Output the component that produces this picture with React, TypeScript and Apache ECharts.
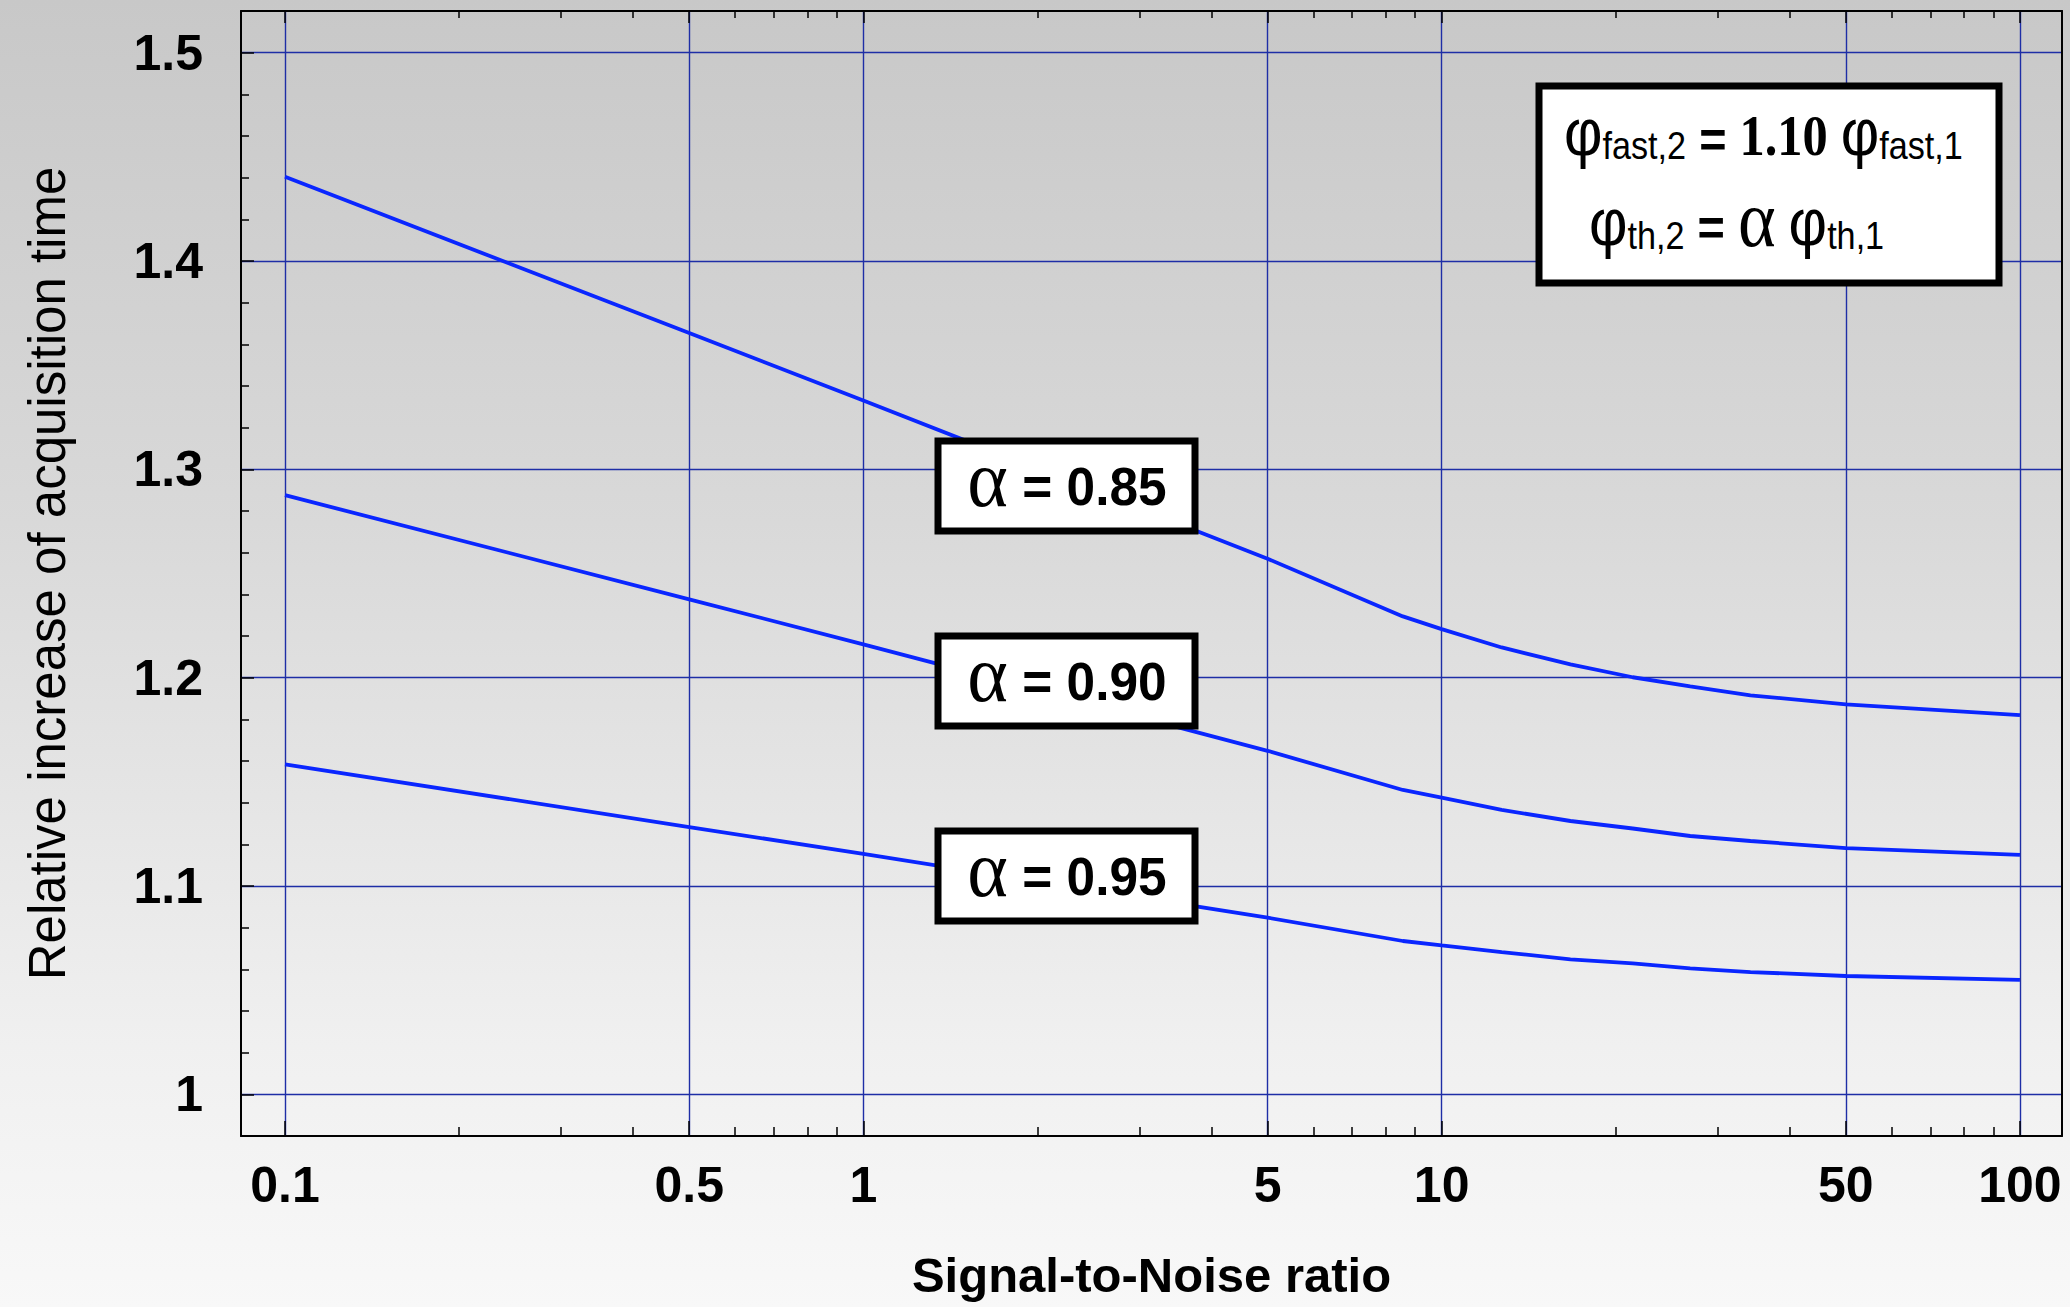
import React, { useEffect, useRef } from "react";
import * as echarts from "echarts";

// ---- data ----
const snr = [0.1, 0.5, 1, 5, 8.57, 10, 12.7, 16.7, 21.4, 26.9, 34.2, 50, 100];
const alpha085 = [1.4404, 1.3654, 1.333, 1.2571, 1.2294, 1.2233, 1.2145, 1.2064, 1.2002, 1.1958, 1.1915, 1.1872, 1.182];
const alpha090 = [1.2876, 1.2376, 1.216, 1.1649, 1.1461, 1.1424, 1.1365, 1.1312, 1.1276, 1.124, 1.1216, 1.1182, 1.1149];
const alpha095 = [1.1584, 1.1283, 1.1154, 1.0848, 1.0736, 1.0715, 1.0683, 1.0648, 1.0629, 1.0605, 1.0587, 1.0568, 1.0549];
const seriesNames = ["α = 0.85", "α = 0.90", "α = 0.95"];
const alphaValues = ["0.85", "0.90", "0.95"];

const xMajorTicks = [0.1, 0.5, 1, 5, 10, 50, 100];
const xMajorLabels = ["0.1", "0.5", "1", "5", "10", "50", "100"];
const xMinorTicks = [0.2, 0.3, 0.4, 0.6, 0.7, 0.8, 0.9, 2, 3, 4, 6, 7, 8, 9, 20, 30, 40, 60, 70, 80, 90];
const yMajorTicks = [1.0, 1.1, 1.2, 1.3, 1.4, 1.5];
const yMajorLabels = ["1", "1.1", "1.2", "1.3", "1.4", "1.5"];
const yMinorTicks = [
  1.02, 1.04, 1.06, 1.08, 1.12, 1.14, 1.16, 1.18, 1.22, 1.24, 1.26, 1.28,
  1.32, 1.34, 1.36, 1.38, 1.42, 1.44, 1.46, 1.48,
];
const xTitle = "Signal-to-Noise ratio";
const yTitle = "Relative increase of acquisition time";

const X_MIN = -1.0761; // log10 of ~0.0839
const X_MAX = 2.0727; // log10 of ~118.2
const Y_MIN = 0.98;
const Y_MAX = 1.52;

const SANS = "'Liberation Sans', Arimo, Arial, sans-serif";
const SERIF = "'Liberation Serif', 'DejaVu Serif', serif";
const GRID_COLOR = "#1e2ea6";
const LINE_COLOR = "#0a26ff";

const lg = (v: number) => Math.log10(v);
const near = (a: number, b: number) => Math.abs(a - b) < 1e-6;

export default function App() {
  const ref = useRef<HTMLDivElement>(null);

  useEffect(() => {
    if (!ref.current) return;
    const chart = echarts.init(ref.current, null, { renderer: "svg" });

    const xAxisBase = {
      type: "value" as const,
      min: X_MIN,
      max: X_MAX,
      axisLabel: { show: false },
      splitLine: { show: false },
    };
    const yAxisBase = {
      type: "value" as const,
      min: Y_MIN,
      max: Y_MAX,
      axisLabel: { show: false },
      splitLine: { show: false },
    };

    const makeSeries = (name: string, vals: number[]) => ({
      name,
      type: "line",
      xAxisIndex: 0,
      yAxisIndex: 0,
      data: snr.map((s, i) => [lg(s), vals[i]]),
      showSymbol: false,
      symbol: "none",
      lineStyle: { color: LINE_COLOR, width: 3.8 },
      z: 3,
    });

    const boxRich = {
      a: { fontFamily: SERIF, fontSize: 80, fill: "#000", verticalAlign: "bottom" },
      e: { fontFamily: SANS, fontWeight: "bold", fontSize: 53, fill: "#000", verticalAlign: "bottom", padding: [0, 0, 6, 0] },
      n: { fontFamily: SANS, fontWeight: "bold", fontSize: 53, fill: "#000", verticalAlign: "bottom", padding: [0, 0, 6, 0] },
    };

    const boxTops = [438, 633, 828];
    const alphaBoxes = alphaValues.map((v, i) => ({
      type: "group",
      z: 100,
      children: [
        {
          type: "rect",
          shape: { x: 938, y: boxTops[i] + 3, width: 257, height: 90 },
          style: { fill: "#ffffff", stroke: "#000000", lineWidth: 7 },
          z: 100,
        },
        {
          type: "text",
          z: 101,
          x: 1067,
          y: boxTops[i] + 41,
          scaleX: 0.97,
          style: {
            x: 0,
            y: 0,
            align: "center",
            verticalAlign: "middle",
            text: `{a|α}{e| = }{n|${v}}`,
            rich: boxRich,
          },
        },
      ],
    }));

    const legendRich1 = {
      p: { fontFamily: SANS, fontSize: 66, fill: "#000", verticalAlign: "bottom" },
      s: { fontFamily: SANS, fontSize: 38, fill: "#000", verticalAlign: "bottom" },
      e: { fontFamily: SANS, fontWeight: "bold", fontSize: 52, fill: "#000", verticalAlign: "bottom" },
      n: { fontFamily: SERIF, fontWeight: "bold", fontSize: 56, fill: "#000", verticalAlign: "bottom" },
    };
    const legendRich2 = {
      p: { fontFamily: SANS, fontSize: 66, fill: "#000", verticalAlign: "bottom", padding: [0, 0, 4, 0] },
      s: { fontFamily: SANS, fontSize: 38, fill: "#000", verticalAlign: "bottom", padding: [0, 0, 4, 0] },
      e: { fontFamily: SANS, fontWeight: "bold", fontSize: 52, fill: "#000", verticalAlign: "bottom", padding: [0, 0, 6, 0] },
      a: { fontFamily: SERIF, fontSize: 80, fill: "#000", verticalAlign: "bottom" },
    };

    chart.setOption({
      animation: false,
      backgroundColor: "transparent",
      grid: {
        left: 241,
        right: 8,
        top: 11,
        bottom: 171,
        containLabel: false,
        outerBoundsMode: "none",
      },
      xAxis: [
        {
          ...xAxisBase,
          position: "bottom",
          name: xTitle,
          nameLocation: "middle",
          nameGap: 114,
          nameTextStyle: { fontFamily: SANS, fontWeight: "bold", fontSize: 49, color: "#000" },
          axisLine: { show: true, onZero: false, lineStyle: { color: "#000", width: 2 } },
          axisTick: {
            show: true,
            inside: true,
            length: 15,
            customValues: xMajorTicks.map(lg),
            lineStyle: { color: "#000", width: 1.5 },
          },
          axisLabel: {
            show: true,
            customValues: xMajorTicks.map(lg),
            margin: 24,
            fontFamily: SANS,
            fontWeight: "bold",
            fontSize: 50,
            color: "#000",
            formatter: (v: number) => {
              const i = xMajorTicks.findIndex((t) => near(lg(t), v));
              return i >= 0 ? xMajorLabels[i] : "";
            },
          },
          splitLine: { show: true, lineStyle: { color: GRID_COLOR, width: 1.4 } },
        },
        {
          ...xAxisBase,
          position: "bottom",
          axisLine: { show: false, onZero: false },
          axisTick: {
            show: true,
            inside: true,
            length: 9,
            customValues: xMinorTicks.map(lg),
            lineStyle: { color: "#000", width: 1.5 },
          },
        },
        {
          ...xAxisBase,
          position: "top",
          axisLine: { show: true, onZero: false, lineStyle: { color: "#000", width: 2 } },
          axisTick: {
            show: true,
            inside: true,
            length: 12,
            customValues: xMajorTicks.map(lg),
            lineStyle: { color: "#000", width: 1.5 },
          },
        },
        {
          ...xAxisBase,
          position: "top",
          axisLine: { show: false, onZero: false },
          axisTick: {
            show: true,
            inside: true,
            length: 7,
            customValues: xMinorTicks.map(lg),
            lineStyle: { color: "#000", width: 1.5 },
          },
        },
      ],
      yAxis: [
        {
          ...yAxisBase,
          position: "left",
          name: yTitle,
          nameLocation: "middle",
          nameGap: 168,
          nameTextStyle: { fontFamily: SANS, fontSize: 51, color: "#000" },
          axisLine: { show: true, onZero: false, lineStyle: { color: "#000", width: 2 } },
          axisTick: {
            show: true,
            inside: true,
            length: 13,
            customValues: yMajorTicks,
            lineStyle: { color: "#000", width: 1.5 },
          },
          axisLabel: {
            show: true,
            customValues: yMajorTicks,
            margin: 38,
            fontFamily: SANS,
            fontWeight: "bold",
            fontSize: 50,
            color: "#000",
            formatter: (v: number) => {
              const i = yMajorTicks.findIndex((t) => near(t, v));
              return i >= 0 ? yMajorLabels[i] : "";
            },
          },
          splitLine: { show: true, lineStyle: { color: GRID_COLOR, width: 1.4 } },
        },
        {
          ...yAxisBase,
          position: "left",
          axisLine: { show: false, onZero: false },
          axisTick: {
            show: true,
            inside: true,
            length: 8,
            customValues: yMinorTicks,
            lineStyle: { color: "#000", width: 1.5 },
          },
        },
        {
          ...yAxisBase,
          position: "right",
          axisLine: { show: true, onZero: false, lineStyle: { color: "#000", width: 2 } },
          axisTick: { show: false },
        },
      ],
      series: [
        makeSeries(seriesNames[0], alpha085),
        makeSeries(seriesNames[1], alpha090),
        makeSeries(seriesNames[2], alpha095),
      ],
      graphic: [
        {
          type: "group",
          z: 100,
          children: [
            {
              type: "rect",
              shape: { x: 1539, y: 86, width: 460, height: 197 },
              style: { fill: "#ffffff", stroke: "#000000", lineWidth: 7 },
              z: 100,
            },
            {
              type: "text",
              z: 101,
              x: 1564,
              y: 132,
              scaleX: 0.9,
              style: {
                x: 0,
                y: 0,
                align: "left",
                verticalAlign: "middle",
                text: "{p|φ}{s|fast,2}{e| = }{n|1.10}{e| }{p|φ}{s|fast,1}",
                rich: legendRich1,
              },
            },
            {
              type: "text",
              z: 101,
              x: 1589,
              y: 219,
              scaleX: 0.9,
              style: {
                x: 0,
                y: 0,
                align: "left",
                verticalAlign: "middle",
                text: "{p|φ}{s|th,2}{e| = }{a|α}{e| }{p|φ}{s|th,1}",
                rich: legendRich2,
              },
            },
          ],
        },
        ...alphaBoxes,
      ],
    });

    return () => chart.dispose();
  }, []);

  return (
    <div
      ref={ref}
      style={{
        position: "fixed",
        left: 0,
        top: 0,
        width: 2070,
        height: 1307,
        background: "linear-gradient(to bottom, #c8c8c8 0%, #d9d9d9 40%, #f0f0f0 80%, #f8f8f8 100%)",
      }}
    />
  );
}
